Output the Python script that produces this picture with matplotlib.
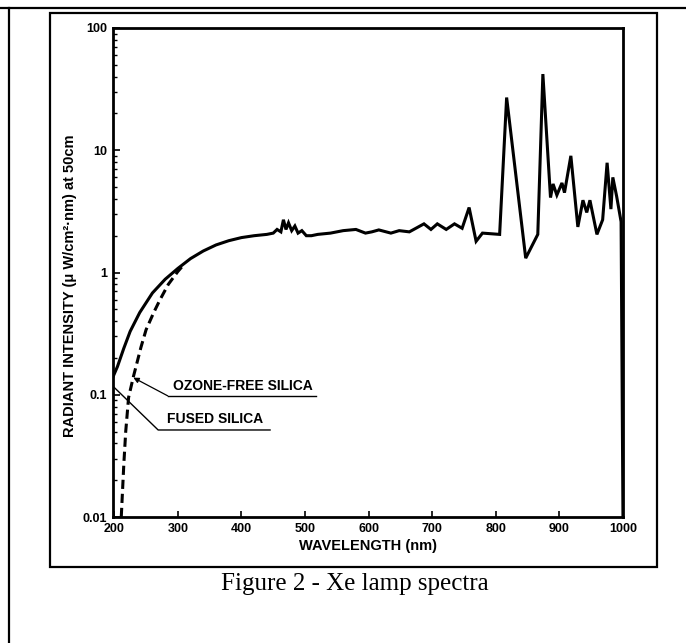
import matplotlib
matplotlib.use("Agg")
import matplotlib.pyplot as plt
from matplotlib.lines import Line2D
from matplotlib.ticker import LogLocator, NullFormatter, FixedLocator

plt.rcParams['font.family'] = ['Liberation Sans', 'DejaVu Sans']

# ---------------- data ----------------
# fused silica, short-wave part (solid)
fused_nm = [198, 205, 215, 225, 240, 260, 280, 300, 320, 340, 360, 380, 400, 420, 440]
fused_val = [0.14, 0.17, 0.24, 0.33, 0.47, 0.68, 0.88, 1.08, 1.3, 1.5, 1.68, 1.82, 1.93, 2.0, 2.05]

# ozone-free silica, short-wave part (dashed) - joins solid near 310 nm
ozone_nm = [211, 215, 218, 222.5, 230, 242, 250, 262, 272, 285, 300, 310]
ozone_val = [0.01, 0.027, 0.05, 0.095, 0.14, 0.245, 0.34, 0.47, 0.6, 0.8, 1.02, 1.17]

# shared spectrum above 450 nm
common_nm = [450, 456, 462, 466, 470, 474, 479, 484, 489, 495, 502, 510, 520, 540,
             560, 580, 595, 605, 616, 635, 648, 664, 687, 698, 708, 722, 735, 747, 758,
             769, 779, 806, 817, 847, 866, 874, 886, 890, 896, 904, 908, 918, 929, 937,
             943, 948, 959, 968, 975, 981, 984, 990, 997, 1000]
common_val = [2.1, 2.25, 2.15, 2.7, 2.25, 2.55, 2.2, 2.4, 2.1, 2.2, 2.0, 2.0, 2.05, 2.1,
              2.2, 2.25, 2.1, 2.15, 2.23, 2.1, 2.2, 2.15, 2.5, 2.25, 2.5, 2.25, 2.5, 2.3, 3.4,
              1.8, 2.1, 2.05, 27, 1.31, 2.05, 42, 4.1, 5.3, 4.3, 5.4, 4.5, 9.0, 2.36, 3.9,
              3.1, 3.9, 2.05, 2.7, 7.9, 3.3, 6.0, 4.2, 2.6, 0.009]

x_ticks = [200, 300, 400, 500, 600, 700, 800, 900, 1000]
y_ticks = [0.01, 0.1, 1, 10, 100]
y_ticklabels = ['0.01', '0.1', '1', '10', '100']

# ---------------- figure ----------------
W, H = 686, 643
fig = plt.figure(figsize=(W / 100, H / 100), dpi=100)


def fx(px):
    return px / W


def fy(py):
    return 1 - py / H


# page border lines (top + left) and inner figure box
fig.add_artist(Line2D([fx(0), fx(686)], [fy(8), fy(8)], color='black', lw=1.6))
fig.add_artist(Line2D([fx(9), fx(9)], [fy(8), fy(643)], color='black', lw=1.6))
fig.add_artist(plt.Rectangle((fx(50), fy(567)), fx(657) - fx(50), fy(13) - fy(567),
                             fill=False, ec='black', lw=1.6))

ax = fig.add_axes([fx(113), fy(517), fx(623) - fx(113), fy(28) - fy(517)])

ax.plot(fused_nm + common_nm, fused_val + common_val, color='black', lw=2.2,
        solid_joinstyle='miter')
ax.plot(ozone_nm, ozone_val, color='black', lw=2.2, ls=(0, (3, 1.6)))

ax.set_yscale('log')
ax.set_xlim(198, 1000)
ax.set_ylim(0.01, 100)

ax.xaxis.set_major_locator(FixedLocator(x_ticks))
ax.set_xticklabels([str(t) for t in x_ticks])
ax.yaxis.set_major_locator(FixedLocator(y_ticks))
ax.set_yticklabels(y_ticklabels)
ax.yaxis.set_minor_locator(LogLocator(base=10, subs=range(2, 10)))
ax.yaxis.set_minor_formatter(NullFormatter())

ax.tick_params(axis='both', which='major', direction='in', length=5, width=1.2,
               labelsize=9, pad=4)
ax.tick_params(axis='y', which='minor', direction='in', length=3, width=1.0)
ax.tick_params(axis='x', which='major', length=4)
for lab in ax.get_xticklabels() + ax.get_yticklabels():
    lab.set_fontweight('bold')

for s in ax.spines.values():
    s.set_linewidth(2.0)

ax.set_xlabel('WAVELENGTH (nm)', fontsize=10.5, fontweight='bold', labelpad=3)
ax.set_ylabel('RADIANT INTENSITY (μ W/cm²·nm) at 50cm', fontsize=10.5,
              fontweight='bold')
ax.yaxis.set_label_coords(-0.07, 0.472)

# leader lines for the two curve labels
ax.annotate('', xy=(230, 0.138), xytext=(284, 0.098),
            arrowprops=dict(arrowstyle='-|>', color='black', lw=0.9,
                            mutation_scale=8, shrinkA=0, shrinkB=0))
ax.plot([284, 517], [0.098, 0.098], color='black', lw=1.0)
ax.text(292, 0.104, 'OZONE-FREE SILICA', fontsize=10, fontweight='bold',
        va='bottom', ha='left')

ax.plot([199, 269, 445], [0.116, 0.0515, 0.0515], color='black', lw=1.0)
ax.text(283, 0.055, 'FUSED SILICA', fontsize=10, fontweight='bold',
        va='bottom', ha='left')

fig.text(fx(355), fy(584), 'Figure 2 - Xe lamp spectra', family='Liberation Serif',
         fontsize=18, ha='center', va='center')

fig.savefig('out.png', dpi=100)
